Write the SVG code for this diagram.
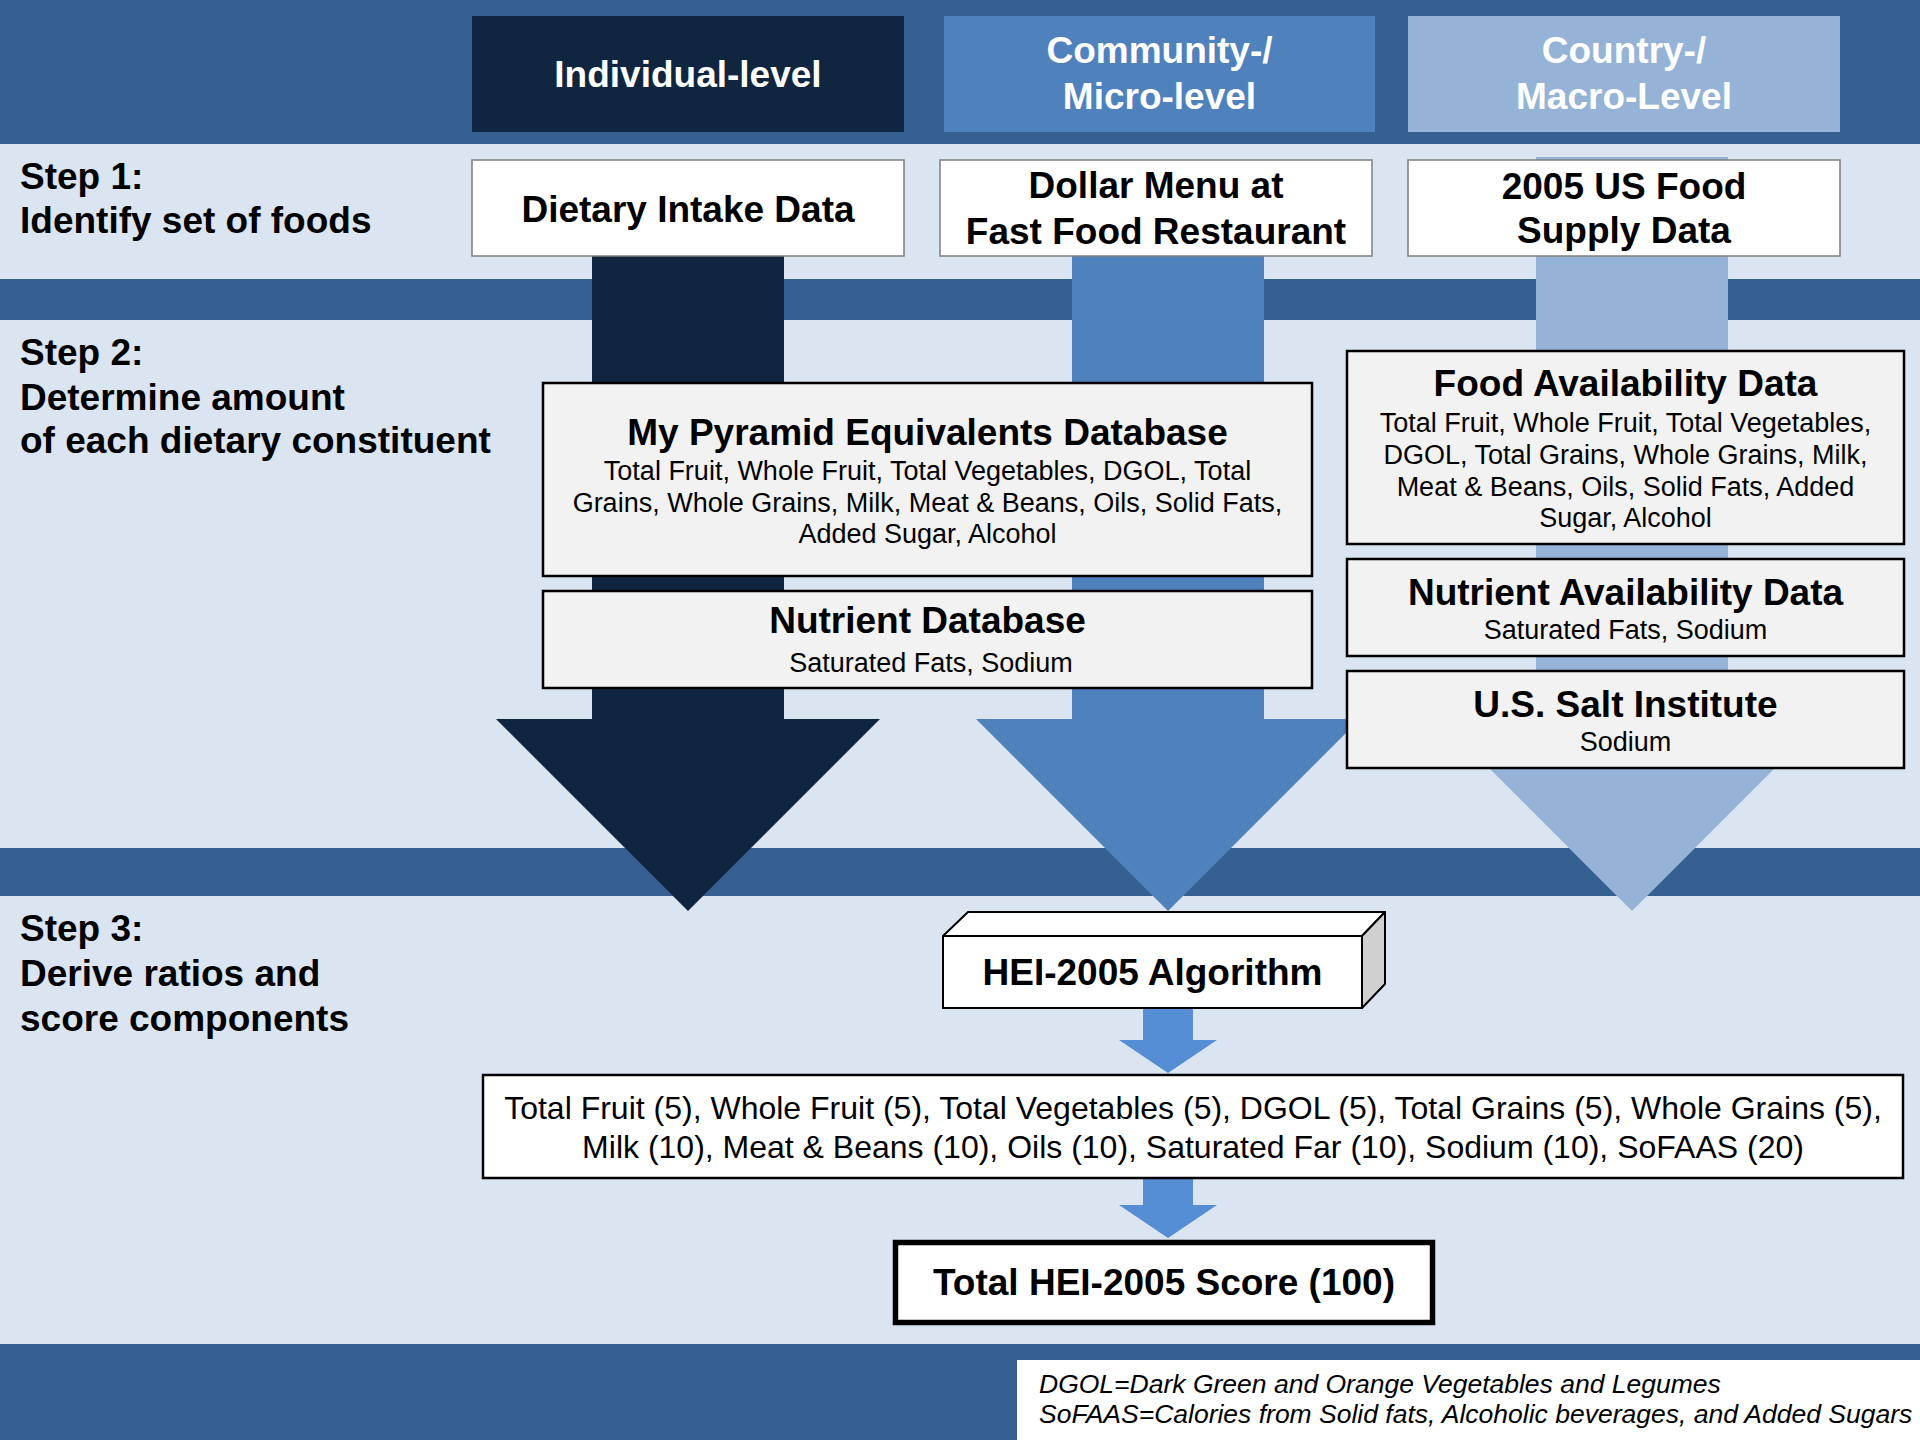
<svg xmlns="http://www.w3.org/2000/svg" width="1920" height="1440" viewBox="0 0 1920 1440">
<style>
text{font-family:"Liberation Sans",Arial,sans-serif;fill:#000}
.b{font-weight:bold;font-size:37px}
.hd{font-weight:bold;font-size:37px;fill:#fff}
.s{font-size:27px}
.c{font-size:32px}
.fn{font-size:26.5px;font-style:italic}
.m{text-anchor:middle}
.band{fill:#376092}
.light{fill:#DBE5F1}
.b1{fill:#fff;stroke:#7f7f7f;stroke-width:1.5}
.b2{fill:#F2F2F2;stroke:#000;stroke-width:2.5}
.sa{fill:#558ED5}
</style>
<g id="background">
<rect x="0" y="0" width="1920" height="1440" class="light"/>
<rect x="0" y="0" width="1920" height="144" class="band"/>
<rect x="0" y="279" width="1920" height="41" class="band"/>
<rect x="0" y="848" width="1920" height="48" class="band"/>
<rect x="0" y="1344" width="1920" height="96" class="band"/>
</g>
<g id="step-labels">
<text class="b" x="20" y="189">Step 1:</text>
<text class="b" x="20" y="233">Identify set of foods</text>
<text class="b" x="20" y="365">Step 2:</text>
<text class="b" x="20" y="410">Determine amount</text>
<text class="b" x="20" y="453">of each dietary constituent</text>
<text class="b" x="20" y="941">Step 3:</text>
<text class="b" x="20" y="986">Derive ratios and</text>
<text class="b" x="20" y="1031">score components</text>
</g>
<g id="connectors">
<polygon fill="#10253F" points="592,170 784,170 784,719 880,719 688,911 496,719 592,719"/>
<polygon fill="#4F81BD" points="1072,170 1264,170 1264,719 1360,719 1168,911 976,719 1072,719"/>
<polygon fill="#95B3D7" points="1536,157 1728,157 1728,719 1824,719 1632,911 1440,719 1536,719"/>
<polygon class="sa" points="1143,1008 1193,1008 1193,1040 1217,1040 1168,1073 1119,1040 1143,1040"/>
<polygon class="sa" points="1143,1178 1193,1178 1193,1205 1217,1205 1168,1238 1119,1205 1143,1205"/>
</g>
<g id="header-individual">
<rect x="472" y="16" width="432" height="116" fill="#10253F"/>
<text class="hd m" x="688" y="87">Individual-level</text>
</g>
<g id="header-community">
<rect x="944" y="16" width="431" height="116" fill="#4F81BD"/>
<text class="hd m" x="1159.5" y="63">Community-/</text>
<text class="hd m" x="1159.5" y="109">Micro-level</text>
</g>
<g id="header-country">
<rect x="1408" y="16" width="432" height="116" fill="#95B3D7"/>
<text class="hd m" x="1624" y="63">Country-/</text>
<text class="hd m" x="1624" y="109">Macro-Level</text>
</g>
<g id="dietary-intake">
<rect x="472" y="160" width="432" height="96" class="b1"/>
<text class="b m" x="688" y="222">Dietary Intake Data</text>
</g>
<g id="dollar-menu">
<rect x="940" y="160" width="432" height="96" class="b1"/>
<text class="b m" x="1156" y="198">Dollar Menu at</text>
<text class="b m" x="1156" y="244">Fast Food Restaurant</text>
</g>
<g id="food-supply">
<rect x="1408" y="160" width="432" height="96" class="b1"/>
<text class="b m" x="1624" y="199">2005 US Food</text>
<text class="b m" x="1624" y="243">Supply Data</text>
</g>
<g id="mypyramid">
<rect x="543" y="383" width="769" height="193" class="b2"/>
<text class="b m" x="927.5" y="445">My Pyramid Equivalents Database</text>
<text class="s m" x="927.5" y="480">Total Fruit, Whole Fruit, Total Vegetables, DGOL, Total</text>
<text class="s m" x="927.5" y="512">Grains, Whole Grains, Milk, Meat &amp; Beans, Oils, Solid Fats,</text>
<text class="s m" x="927.5" y="543">Added Sugar, Alcohol</text>
</g>
<g id="nutrient-db">
<rect x="543" y="591" width="769" height="97" class="b2"/>
<text class="b m" x="927.5" y="633">Nutrient Database</text>
<text class="s m" x="931" y="672">Saturated Fats, Sodium</text>
</g>
<g id="food-availability">
<rect x="1347" y="351" width="557" height="193" class="b2"/>
<text class="b m" x="1625.5" y="396">Food Availability Data</text>
<text class="s m" x="1625.5" y="432">Total Fruit, Whole Fruit, Total Vegetables,</text>
<text class="s m" x="1625.5" y="464">DGOL, Total Grains, Whole Grains, Milk,</text>
<text class="s m" x="1625.5" y="496">Meat &amp; Beans, Oils, Solid Fats, Added</text>
<text class="s m" x="1625.5" y="527">Sugar, Alcohol</text>
</g>
<g id="nutrient-availability">
<rect x="1347" y="559" width="557" height="97" class="b2"/>
<text class="b m" x="1625.5" y="605">Nutrient Availability Data</text>
<text class="s m" x="1625.5" y="639">Saturated Fats, Sodium</text>
</g>
<g id="salt-institute">
<rect x="1347" y="671" width="557" height="97" class="b2"/>
<text class="b m" x="1625.5" y="717">U.S. Salt Institute</text>
<text class="s m" x="1625.5" y="751">Sodium</text>
</g>
<g id="hei-algorithm">
<polygon points="943,936 968,912 1385,912 1362,936" fill="#fff" stroke="#000" stroke-width="2" stroke-linejoin="round"/>
<polygon points="1362,936 1385,912 1385,984 1362,1008" fill="#D0D0D0" stroke="#000" stroke-width="2" stroke-linejoin="round"/>
<rect x="943" y="936" width="419" height="72" fill="#fff" stroke="#000" stroke-width="2"/>
<text class="b m" x="1152.5" y="985">HEI-2005 Algorithm</text>
</g>
<g id="components">
<rect x="483" y="1075" width="1420" height="103" fill="#fff" stroke="#000" stroke-width="2.5"/>
<text class="c m" x="1193" y="1119">Total Fruit (5), Whole Fruit (5), Total Vegetables (5), DGOL (5), Total Grains (5), Whole Grains (5),</text>
<text class="c m" x="1193" y="1158">Milk (10), Meat &amp; Beans (10), Oils (10), Saturated Far (10), Sodium (10), SoFAAS (20)</text>
</g>
<g id="total-score">
<rect x="895.5" y="1242.5" width="537" height="80" fill="#fff" stroke="#000" stroke-width="5.5"/>
<text class="b m" x="1164" y="1295">Total HEI-2005 Score (100)</text>
</g>
<g id="footnote">
<rect x="1017" y="1360" width="903" height="80" fill="#fff"/>
<text class="fn" x="1039" y="1393">DGOL=Dark Green and Orange Vegetables and Legumes</text>
<text class="fn" x="1039" y="1423">SoFAAS=Calories from Solid fats, Alcoholic beverages, and Added Sugars</text>
</g>
</svg>
